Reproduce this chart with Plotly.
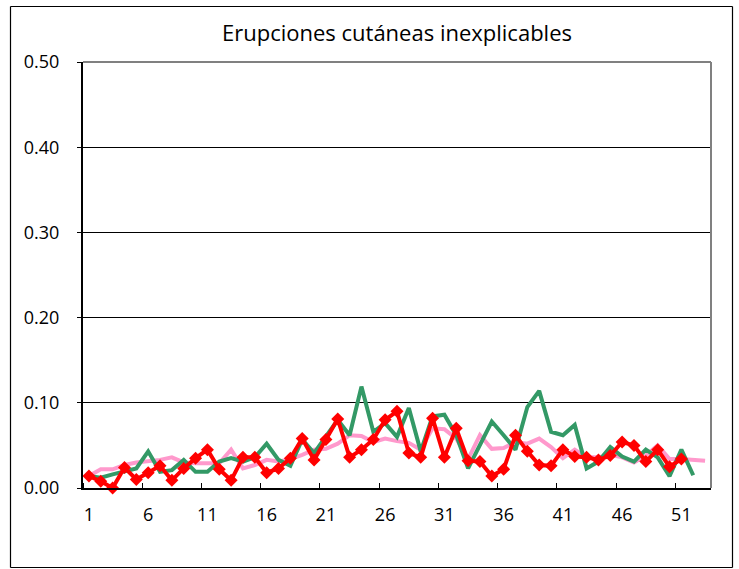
import plotly.graph_objects as go

weeks = list(range(1, 54))
tick_labels = [str(v) for v in range(1, 53, 5)]

pink_vals = [0.014,0.022,0.022,0.027,0.030,0.031,0.033,0.036,0.030,0.029,
             0.029,0.029,0.045,0.023,0.027,0.033,0.031,0.034,0.039,0.045,
             0.046,0.052,0.062,0.061,0.054,0.058,0.055,0.053,0.045,0.070,
             0.069,0.058,0.034,0.062,0.046,0.047,0.054,0.052,0.058,0.048,
             0.035,0.045,0.036,0.036,0.039,0.036,0.030,0.038,0.050,0.034,
             0.034,0.033,0.032]
green_vals = [0.014,0.012,0.016,0.020,0.023,0.043,0.019,0.021,0.033,0.019,
              0.019,0.031,0.035,0.031,0.036,0.052,0.033,0.026,0.057,0.041,
              0.060,0.080,0.062,0.119,0.066,0.076,0.060,0.094,0.043,0.084,
              0.086,0.062,0.023,0.050,0.078,0.062,0.045,0.095,0.114,0.066,
              0.062,0.074,0.023,0.031,0.048,0.037,0.031,0.045,0.036,0.014,
              0.045,0.015]
red_vals = [0.014,0.008,0.000,0.024,0.010,0.018,0.026,0.009,0.023,0.035,
            0.045,0.022,0.009,0.036,0.036,0.018,0.023,0.035,0.058,0.033,
            0.057,0.081,0.036,0.045,0.057,0.080,0.090,0.041,0.036,0.082,
            0.036,0.070,0.032,0.031,0.014,0.022,0.062,0.043,0.027,0.026,
            0.045,0.037,0.036,0.033,0.038,0.054,0.050,0.031,0.045,0.025,
            0.034]

FONT = "Open Sans"

fig = go.Figure()
fig.add_trace(go.Scatter(x=weeks[:len(pink_vals)], y=pink_vals, mode="lines",
                         line=dict(color="#FF99CC", width=4), cliponaxis=False,
                         name="pink"))
fig.add_trace(go.Scatter(x=weeks[:len(green_vals)], y=green_vals, mode="lines",
                         line=dict(color="#339966", width=4), cliponaxis=False,
                         name="green"))
fig.add_trace(go.Scatter(x=weeks[:len(red_vals)], y=red_vals, mode="lines+markers",
                         line=dict(color="#FF0000", width=4),
                         marker=dict(symbol="diamond", size=10, color="#FF0000"),
                         cliponaxis=False, name="red"))

# plot area border (gray, top and right)
fig.add_shape(type="line", xref="paper", yref="paper", x0=0, x1=1, y0=1, y1=1,
              line=dict(color="#808080", width=2), layer="above")
fig.add_shape(type="line", xref="paper", yref="paper", x0=1, x1=1, y0=0, y1=1,
              line=dict(color="#808080", width=2), layer="above")
# outer chart border (pixel positions converted to paper units)
PW, PH = 628, 426
bx0, bx1 = (10.5 - 83) / PW, (732.5 - 83) / PW
by0, by1 = -(567.5 - 488) / PH, (488 - 6.5) / PH
for (xa, ya, xb, yb) in [(bx0, by1, bx1, by1), (bx0, by0, bx1, by0),
                         (bx0, by0, bx0, by1), (bx1, by0, bx1, by1)]:
    fig.add_shape(type="line", xref="paper", yref="paper", x0=xa, y0=ya, x1=xb, y1=yb,
                  line=dict(color="#000000", width=1.2), layer="above")

fig.update_layout(
    width=739, height=569,
    margin=dict(l=83, r=28, t=62, b=81),
    paper_bgcolor="white", plot_bgcolor="white",
    showlegend=False,
    font=dict(family=FONT, size=18, color="#000000"),
    title=dict(text="Erupciones cutáneas inexplicables", x=0.5, xref="paper",
               y=1-33/569, yref="container", xanchor="center", yanchor="middle",
               font=dict(family=FONT, size=22, color="#000000")),
    xaxis=dict(range=[0.5, 53.5], tickmode="array",
               tickvals=[int(t) for t in tick_labels], ticktext=tick_labels,
               ticks="", showgrid=False, zeroline=False,
               showline=True, linecolor="#000000", linewidth=2,
               tickfont=dict(family=FONT, size=18), ticklabelstandoff=9,
               minor=dict(tickmode="array",
                          tickvals=[v + 0.5 for v in range(0, 54, 5)],
                          ticks="inside", ticklen=5, tickcolor="#000000",
                          tickwidth=1, showgrid=False)),
    yaxis=dict(range=[0, 0.5], tickmode="array",
               tickvals=[0, 0.1, 0.2, 0.3, 0.4, 0.5], tickformat=".2f",
               showgrid=True, gridcolor="#000000", gridwidth=1,
               zeroline=False, showline=True, linecolor="#000000", linewidth=2,
               ticks="outside", ticklen=4, tickcolor="#000000",
               tickfont=dict(family=FONT, size=18), ticklabelstandoff=14),
)

fig.write_html("out.html", config={"displayModeBar": False},
               post_script="document.body.style.margin='0';")
